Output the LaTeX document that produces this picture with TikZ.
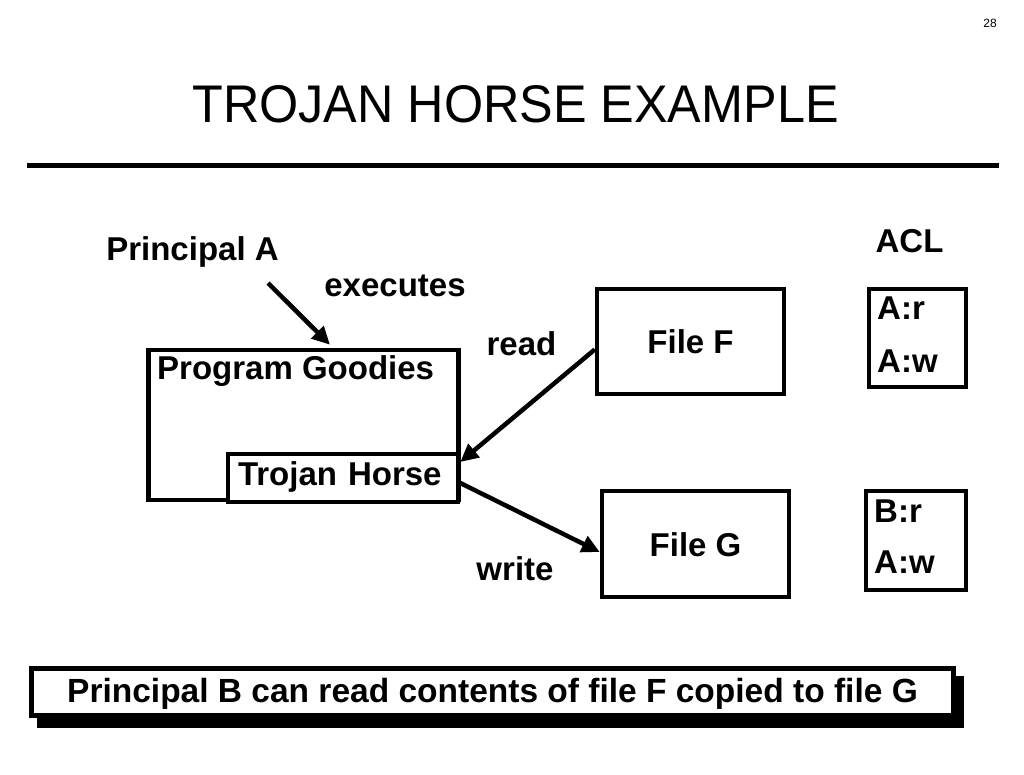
\documentclass[tikz,border=0pt]{standalone}
\usepackage{fontspec}
\setmainfont{Liberation Sans}
\newfontfamily\titlefont{Liberation Sans}[FakeStretch=0.95]
\usetikzlibrary{positioning, arrows.meta, backgrounds}

\tikzset{
  box/.style={draw, rectangle, line width=4.5pt, fill=white, inner sep=0pt},
  lbl/.style={inner sep=0pt, font=\fontsize{33}{40}\selectfont\bfseries},
  filebox/.style={box, lbl, text height=24pt, text depth=0pt},
  flow/.style={line width=4.5pt, -{Triangle[length=18pt,width=17pt]}},
}

\begin{document}
\begin{tikzpicture}[x=1pt, y=-1pt]
  \useasboundingbox (0,0) rectangle (1024,774);

  \node[inner sep=0pt, anchor=base, font=\fontsize{12}{14}\selectfont] (page) at (990,27) {28};
  \node[inner sep=0pt, anchor=base, font=\titlefont\fontsize{53}{60}\selectfont] (title) at (515.5,122) {TROJAN HORSE EXAMPLE};
  \draw[line width=5pt] (27,165) -- (999,165);

  % program and the horse inside it
  \node[box, minimum width=310pt, minimum height=150pt] (prog) at (303.5,425) {};
  \node[lbl, anchor=base west] (progname) at (157,379) {Program Goodies};
  \node[filebox, text depth=10pt, inner xsep=10pt, text width=210pt, align=left,
        minimum height=48pt] (trojan) at (343,478) {Trojan Horse};

  \node[lbl, anchor=base] (princA) at (192.5,260) {Principal A};
  \node[lbl, anchor=base] (exec) at (395,296) {executes};
  \node[lbl, anchor=base] (read) at (521.5,355) {read};
  \node[lbl, anchor=base] (write) at (515,580) {write};

  % files
  \node[filebox, minimum width=187pt, minimum height=105pt] (fileF) at (690.5,341.5) {File F};
  \node[filebox, minimum width=187pt, minimum height=106pt] (fileG) at (695.5,544) {File G};

  % access lists
  \node[lbl, anchor=base] (acl) at (909.5,252) {ACL};
  \node[box, minimum width=97pt, minimum height=98pt] (aclF) at (917.5,338) {};
  \node[lbl, anchor=base west] (aclFr) at (877,319) {A:r};
  \node[lbl, anchor=base west] (aclFw) at (877,372) {A:w};
  \node[box, minimum width=100pt, minimum height=99pt] (aclG) at (916,540.5) {};
  \node[lbl, anchor=base west] (aclGr) at (874,522) {B:r};
  \node[lbl, anchor=base west] (aclGw) at (874,573) {A:w};

  \coordinate (execfrom) at (268,283);
  \draw[flow] (execfrom) -- ([xshift=26.5pt, yshift=3pt]prog.north);
  \draw[flow] ([yshift=-8pt]fileF.west) -- ([yshift=16pt]trojan.east);
  \draw[flow] ([yshift=-5pt]trojan.east) -- ([yshift=-8pt]fileG.west);

  % conclusion
  \node[box, lbl, font=\fontsize{33.5}{40}\selectfont\bfseries, text height=24pt, text depth=4pt,
        minimum width=922pt, minimum height=47pt] (summary) at (492.5,692)
        {Principal B can read contents of file F copied to file G};
  \begin{scope}[on background layer]
    \fill ([xshift=8pt, yshift=-10pt]summary.south west) rectangle ([xshift=8pt, yshift=-10pt]summary.north east);
  \end{scope}
\end{tikzpicture}
\end{document}
